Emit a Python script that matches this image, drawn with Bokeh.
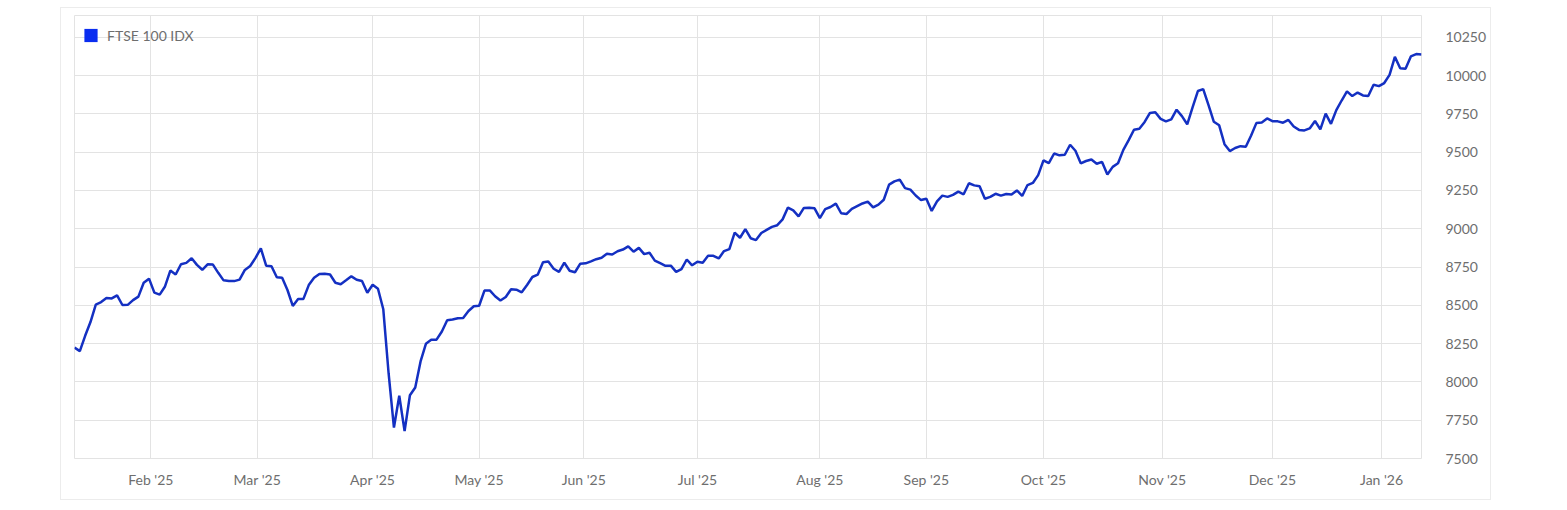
import pandas as pd
from bokeh.plotting import figure
from bokeh.models import (Range1d, FixedTicker, ColumnDataSource, Legend, LegendItem)
from bokeh.embed import file_html
from bokeh.resources import INLINE

series_name = "FTSE 100 IDX"
first_day = "2025-01-13"
last_day = "2026-01-13"
market_holidays = ["2025-04-18", "2025-04-21", "2025-05-05", "2025-05-26",
                   "2025-08-25", "2025-12-25", "2025-12-26", "2026-01-01"]

ftse_close = [
    # Jan 2025 (from 13th)
    8224, 8201, 8301, 8391, 8505, 8521, 8548, 8545, 8565, 8502, 8503, 8534, 8557, 8647, 8674,
    # Feb
    8583, 8570, 8623, 8727, 8701, 8768, 8777, 8807, 8764, 8732, 8768, 8766, 8712, 8663, 8659,
    8658, 8668, 8731, 8757, 8810,
    # Mar
    8871, 8759, 8755, 8683, 8680, 8600, 8496, 8541, 8542, 8632, 8680, 8705, 8706, 8701, 8647,
    8638, 8663, 8689, 8667, 8659, 8582,
    # Apr
    8634, 8608, 8474, 8055, 7702, 7910, 7679, 7913, 7964, 8134, 8249, 8275, 8276, 8329, 8403,
    8407, 8415, 8417, 8463, 8494,
    # May
    8497, 8596, 8597, 8559, 8531, 8554, 8605, 8602, 8585, 8633, 8685, 8700, 8781, 8786, 8739,
    8718, 8778, 8726, 8716, 8772,
    # Jun
    8774, 8787, 8801, 8811, 8837, 8832, 8853, 8864, 8885, 8850, 8875, 8834, 8843, 8792, 8775,
    8758, 8759, 8718, 8736, 8799, 8761,
    # Jul
    8785, 8778, 8823, 8823, 8806, 8854, 8867, 8975, 8941, 8998, 8938, 8926, 8972, 8992, 9012,
    9023, 9061, 9138, 9120, 9081, 9136, 9137, 9133,
    # Aug
    9069, 9128, 9142, 9164, 9101, 9096, 9129, 9147, 9165, 9177, 9139, 9157, 9189, 9288, 9309,
    9321, 9265, 9255, 9217, 9187,
    # Sep
    9196, 9116, 9178, 9216, 9208, 9221, 9242, 9225, 9297, 9283, 9277, 9196, 9208, 9228, 9216,
    9227, 9223, 9250, 9214, 9285, 9299, 9350,
    # Oct
    9446, 9428, 9491, 9479, 9483, 9548, 9509, 9427, 9442, 9452, 9424, 9436, 9354, 9404, 9427,
    9515, 9578, 9646, 9653, 9697, 9756, 9760, 9717,
    # Nov
    9701, 9714, 9777, 9735, 9682, 9792, 9899, 9911, 9807, 9698, 9675, 9552, 9507, 9527, 9539,
    9535, 9609, 9691, 9694, 9720,
    # Dec
    9702, 9701, 9692, 9710, 9667, 9645, 9642, 9655, 9703, 9649, 9751, 9685, 9774, 9837, 9897,
    9866, 9889, 9870, 9866, 9940, 9931,
    # Jan 2026
    9951, 10004, 10122, 10048, 10044, 10125, 10140, 10137,
]

month_starts = ["2025-02-01", "2025-03-01", "2025-04-01", "2025-05-01", "2025-06-01",
                "2025-07-01", "2025-08-01", "2025-09-01", "2025-10-01", "2025-11-01",
                "2025-12-01", "2026-01-01"]
month_labels = ["Feb '25", "Mar '25", "Apr '25", "May '25", "Jun '25", "Jul '25",
                "Aug '25", "Sep '25", "Oct '25", "Nov '25", "Dec '25", "Jan '26"]
y_ticks = [7500, 7750, 8000, 8250, 8500, 8750, 9000, 9250, 9500, 9750, 10000, 10250]

# trading days (ordinal x axis, weekends / holidays compressed)
dates = [d for d in pd.bdate_range(first_day, last_day)
         if d.strftime("%Y-%m-%d") not in market_holidays]
idx = list(range(len(dates)))
source = ColumnDataSource(dict(x=idx, close=ftse_close))

# month boundaries expressed on the trading-day axis
tick_pos = []
for m in month_starts:
    t = pd.Timestamp(m)
    i = next(k for k, d in enumerate(dates) if d >= t)
    d0, d1 = dates[i - 1], dates[i]
    tick_pos.append(round((i - 1) + (t - d0) / (d1 - d0), 4))

FONT = "Lato"
TXT = "#6e6e6e"
GRID = "#e3e3e3"
FS = "14px"

p = figure(frame_width=1347, frame_height=443,
           x_range=Range1d(0, len(dates) - 1), y_range=Range1d(7500, 10392),
           output_backend="svg", toolbar_location=None, y_axis_location="right",
           min_border_left=13, min_border_top=7, min_border_right=69, min_border_bottom=41)
p.margin = (7, 0, 0, 60)
p.styles = {"border": "1px solid #ececec", "box-sizing": "border-box"}
p.background_fill_color = "white"
p.border_fill_color = "white"
p.outline_line_color = GRID

for ax in (p.xaxis[0], p.yaxis[0]):
    ax.axis_line_color = None
    ax.major_tick_line_color = None
    ax.minor_tick_line_color = None
    ax.major_label_text_font = FONT
    ax.major_label_text_font_size = FS
    ax.major_label_text_color = TXT

p.xaxis.ticker = FixedTicker(ticks=tick_pos)
p.xaxis.major_label_overrides = {tp: lab for tp, lab in zip(tick_pos, month_labels)}
p.xaxis.major_label_standoff = 6
p.yaxis.ticker = FixedTicker(ticks=y_ticks)
p.yaxis.major_label_text_align = "right"
p.yaxis.major_label_standoff = 18

p.xgrid.ticker = FixedTicker(ticks=tick_pos)
p.ygrid.ticker = FixedTicker(ticks=y_ticks)
for g in (p.xgrid[0], p.ygrid[0]):
    g.grid_line_color = GRID
    g.grid_line_width = 1

p.line("x", "close", source=source, line_color="#1430c2", line_width=2.5)

swatch = p.scatter("x", "close", source=source, marker="square", size=0,
                   fill_color="#0a2df0", line_color=None)
legend = Legend(items=[LegendItem(label=series_name, renderers=[swatch])],
                location="top_left", margin=0, padding=0,
                glyph_width=33, glyph_height=40, label_height=40, label_standoff=-6,
                background_fill_alpha=0, border_line_color=None,
                label_text_font=FONT, label_text_font_size=FS, label_text_color=TXT)
p.add_layout(legend)

open("out.html", "w").write(file_html(p, INLINE))
